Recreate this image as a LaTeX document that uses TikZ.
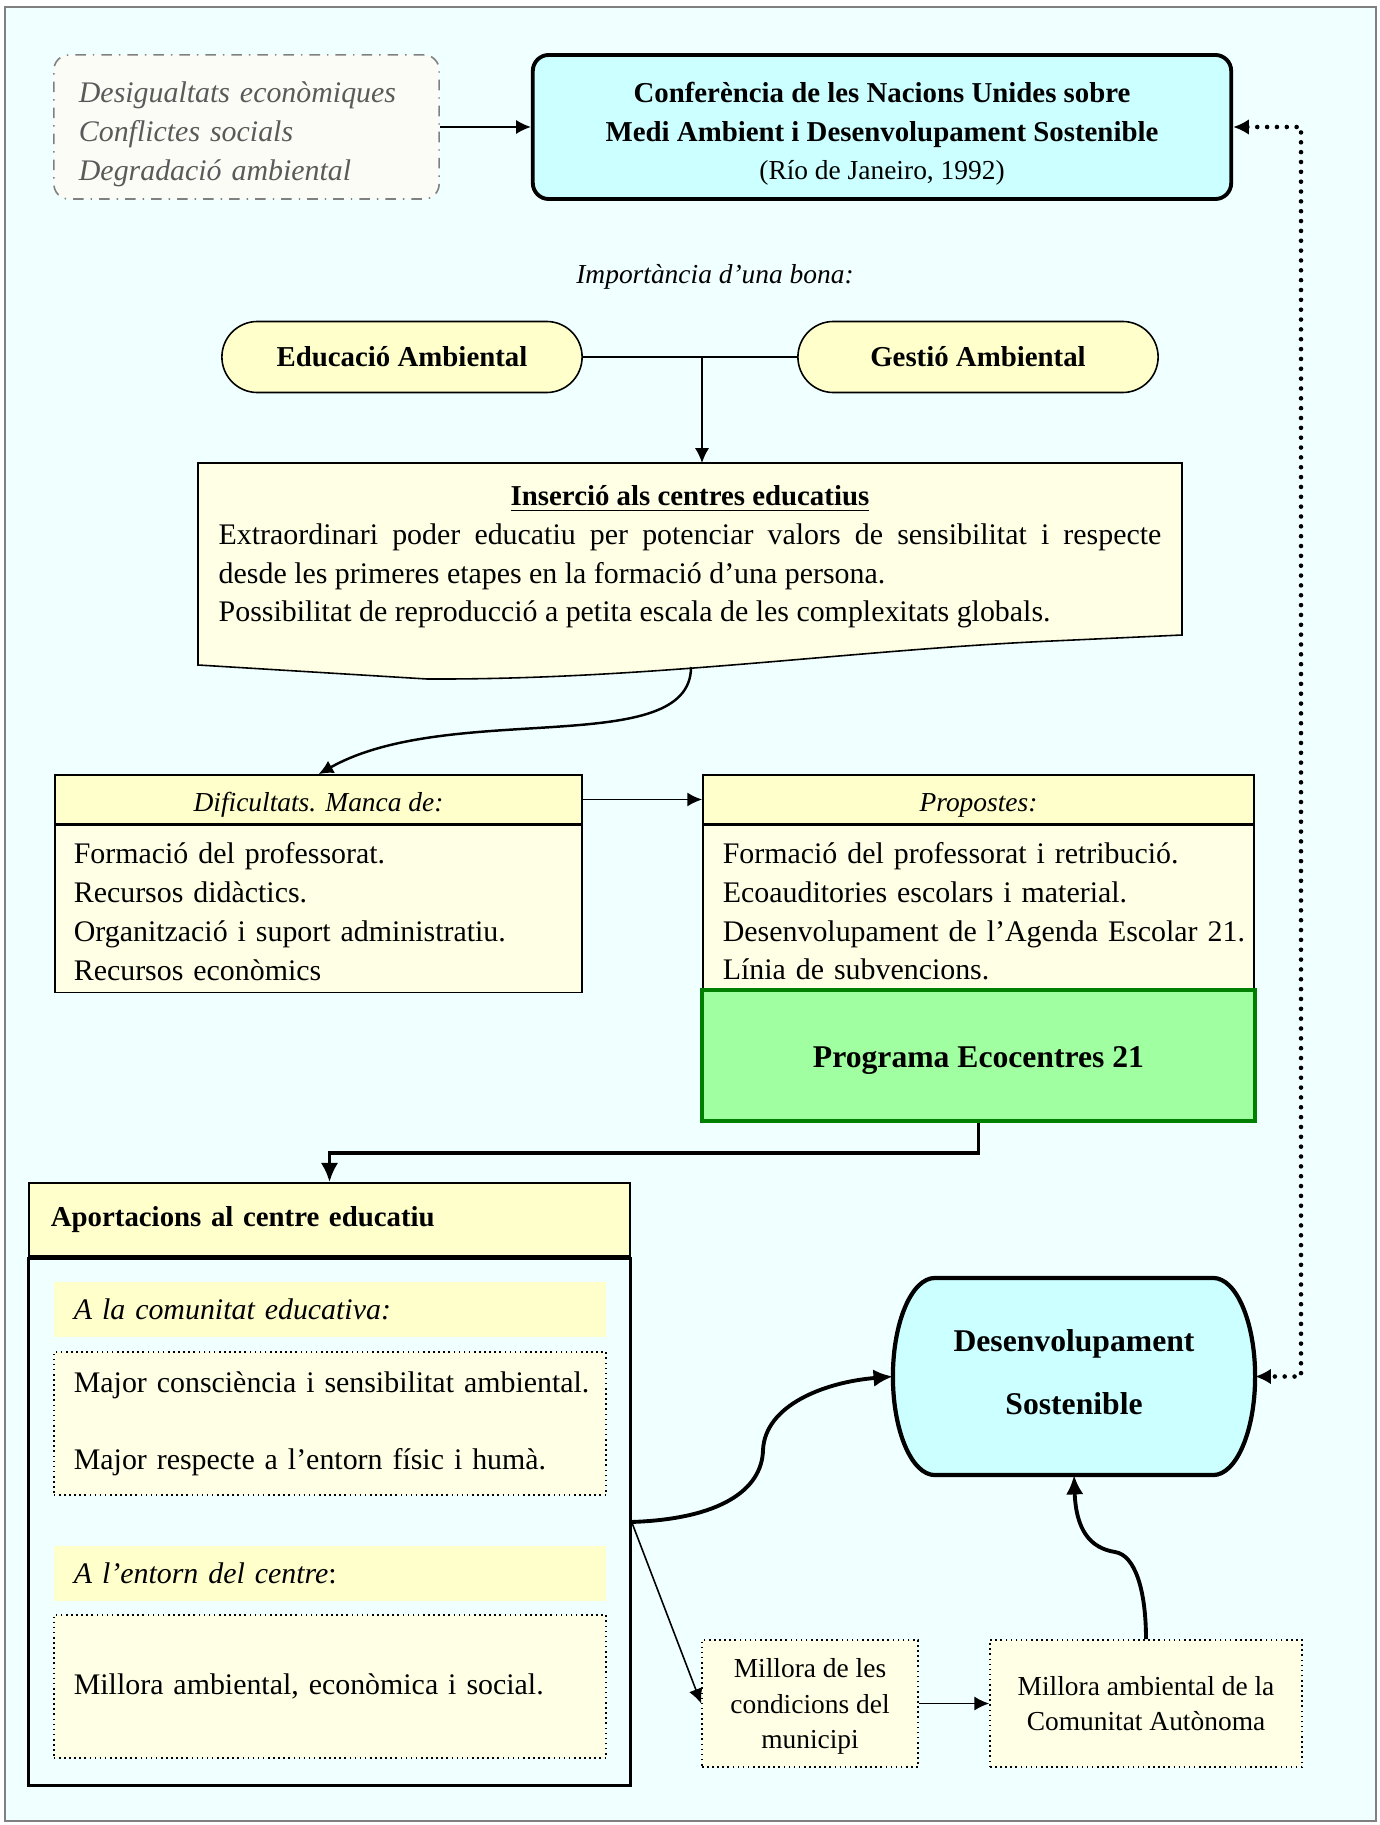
\documentclass[tikz,border=0pt]{standalone}
\usepackage{fontspec}
\setmainfont{Liberation Serif}
\usetikzlibrary{positioning,arrows.meta,shapes.misc,backgrounds}

\definecolor{bgcyan}{RGB}{240,255,255}
\definecolor{hdyellow}{RGB}{255,255,204}
\definecolor{bdyellow}{RGB}{255,255,230}
\definecolor{boxcyan}{RGB}{204,255,255}
\definecolor{ecogreen}{RGB}{160,255,160}
\definecolor{ecoborder}{RGB}{0,128,0}
\definecolor{causegray}{RGB}{90,90,90}
\definecolor{causefill}{RGB}{252,252,247}

\newcommand\txtfont{\fontsize{8.5}{11}\selectfont}
\newcommand\subfont{\fontsize{7.8}{10}\selectfont}
\newcommand\ttlfont{\fontsize{8.2}{10.9}\selectfont\bfseries}
\newcommand\bigttl{\fontsize{9}{17.9}\selectfont\bfseries}

\tikzset{
  thinln/.style={line width=0.45pt},
  thickln/.style={line width=1.1pt},
  thinarr/.style={thinln, -{Latex[length=4.2pt,width=4pt]}},
  thickarr/.style={thickln, -{Latex[length=5.5pt,width=5pt]}},
  dotln/.style={line width=1.3pt, dash pattern=on 0pt off 2.8pt, line cap=round,
    {Latex[length=4.5pt,width=4.5pt]}-{Latex[length=4.5pt,width=4.5pt]}},
  causebox/.style={draw=gray, dash dot, thinln, fill=causefill, rounded corners=0.15cm,
    minimum width=3.85cm, minimum height=1.44cm, text width=3.35cm, inner xsep=0.25cm,
    align=left, font=\txtfont\itshape, text=causegray},
  confbox/.style={draw, line width=1.1pt, fill=boxcyan, rounded corners=0.16cm,
    minimum width=6.98cm, minimum height=1.44cm, align=center, font=\ttlfont},
  pill/.style={rounded rectangle, draw, thinln, fill=hdyellow, minimum width=3.6cm,
    minimum height=0.71cm, font=\ttlfont},
  hdbox/.style={draw, thinln, fill=hdyellow, minimum height=0.49cm, text height=0.23cm,
    text depth=0cm, font=\subfont\itshape},
  bdbox/.style={draw, thinln, fill=bdyellow, minimum height=1.67cm, inner xsep=0.19cm,
    align=left, font=\txtfont},
  ecobox/.style={draw=ecoborder, line width=1.1pt, fill=ecogreen, minimum width=5.53cm,
    minimum height=1.31cm, text height=0.23cm, text depth=0cm,
    font=\fontsize{9}{11}\selectfont\bfseries},
  apohead/.style={draw, thinln, fill=hdyellow, minimum height=0.73cm, text width=5.57cm,
    inner xsep=0.22cm, align=left, font=\ttlfont},
  band/.style={fill=hdyellow, minimum height=0.55cm, inner xsep=0.2cm, text width=5.12cm,
    align=left, font=\txtfont\itshape},
  dotbox/.style={draw, densely dotted, thinln, fill=bdyellow, minimum height=1.43cm,
    inner xsep=0.2cm, text width=5.12cm, align=left, font=\txtfont},
  smallbox/.style={draw, densely dotted, thinln, fill=bdyellow, minimum height=1.27cm,
    align=center, font=\subfont}
}

\begin{document}
\begin{tikzpicture}[x=0.01cm, y=-0.01cm, every node/.style={inner sep=0pt}]
  \useasboundingbox (0,0) rectangle (1380,1825);

  \node[causebox] (causes) at (246.5,127) {\rule{0pt}{0.35cm}Desigualtats econòmiques\\Conflictes socials\\Degradació ambiental};
  \node[confbox] (conf) at (882,127) {\rule{0pt}{0.34cm}Conferència de les Nacions Unides sobre\\Medi Ambient i Desenvolupament Sostenible\\{\subfont\mdseries(Río de Janeiro, 1992)}};

  \node[font=\subfont\itshape] (imp) at (715,277) {Importància d'una bona:};
  \node[pill] (ea) at (402,357) {Educació Ambiental};
  \node[pill] (ga) at (978,357) {Gestió Ambiental};
  \coordinate (jn) at (702,357);

  \coordinate (insnw) at (198,463);
  \coordinate (insb) at (691,667);
  \node[font=\ttlfont] (inst) at (690,499) {\underline{Inserció als centres educatius}};
  \node[font=\txtfont, text width=9.42cm, align=justify] (insx) at (690,576)
    {Extraordinari poder educatiu per potenciar valors de sensibilitat i respecte\linebreak
     desde les primeres etapes en la formació d'una persona.\\
     Possibilitat de reproducció a petita escala de les complexitats globals.};

  \node[hdbox, minimum width=5.27cm] (difhd) at (318.5,799.5) {Dificultats. Manca de:};
  \node[bdbox, text width=4.89cm, below=0pt of difhd] (difbd)
    {\rule{0pt}{0.26cm}Formació del professorat.\\Recursos didàctics.\\Organització i suport administratiu.\\Recursos econòmics};
  \node[hdbox, minimum width=5.51cm] (prophd) at (978.5,799.5) {Propostes:};
  \node[bdbox, text width=5.11cm, inner xsep=0.2cm, below=0pt of prophd] (propbd)
    {\rule{0pt}{0.26cm}Formació del professorat i retribució.\\Ecoauditories escolars i material.\\\mbox{Desenvolupament de l'Agenda Escolar 21.}\\Línia de subvencions.};
  \node[ecobox] (prog) at (978.5,1055.5) {Programa Ecocentres 21};

  \node[apohead] (apohd) at (329.5,1219.5) {Aportacions al centre educatiu};
  \node[draw, line width=0.85pt, minimum width=6.01cm, minimum height=5.27cm, below=0pt of apohd] (apo) {};
  \node[band] (comhd) at (330,1309.5) {A la comunitat educativa:};
  \node[dotbox] (combd) at (330,1423.5) {\mbox{Major consciència i sensibilitat ambiental.}\\[11pt]Major respecte a l'entorn físic i humà.};
  \node[band] (enthd) at (330,1573) {A l'entorn del centre\upshape:};
  \node[dotbox] (entbd) at (330,1686.5) {Millora ambiental, econòmica i social.};

  \node[smallbox, minimum width=2.16cm] (mun) at (810,1703.5) {\rule{0pt}{0.25cm}Millora de les\\condicions del\\municipi};
  \node[smallbox, minimum width=3.12cm] (cam) at (1146,1703.5) {Millora ambiental de la\\Comunitat Autònoma};
  \node[font=\bigttl, align=center, outer sep=0pt, minimum width=3.62cm, minimum height=1.97cm] (ds) at (1074,1376.5)
    {Desenvolupament\\Sostenible\rule[-0.095cm]{0pt}{0pt}};
  \coordinate (dr) at (1301,700);

  \begin{scope}[on background layer]
    \draw[draw=gray, thinln, fill=bgcyan] (5,7) rectangle (1376,1821);
    \draw[thinln, fill=bdyellow] (insnw) -- (1182,463) -- (1182,635) -- (1052,641)
      .. controls (850,650) and (650,680) .. (427,679) -- (198,665) -- cycle;
    \draw[line width=1.2pt, line join=round, fill=boxcyan] ([xshift=0.42cm]ds.north west) -- ([xshift=-0.42cm]ds.north east)
      arc[start angle=90, end angle=-90, x radius=0.42cm, y radius=0.985cm]
      -- ([xshift=0.42cm]ds.south west)
      arc[start angle=270, end angle=90, x radius=0.42cm, y radius=0.985cm] -- cycle;
  \end{scope}

  \path[thinarr]
    (causes) edge (conf)
    (difhd)  edge (prophd)
    (apo.east) edge (mun.west)
    (mun)    edge (cam);
  \draw[thinln] (ea) -- (ga);
  \draw[thinarr] (jn) -- (jn |- insnw);
  \draw[thinarr, line width=0.7pt] (insb) .. controls (691,760) and (450,700) .. (difhd.north);
  \draw[thickarr] (prog.south) -- ++(0,30) -| (apohd.north);
  \draw[thickarr] (apo.east) .. controls (720,1519) and (762,1490) .. (763,1450)
    .. controls (765,1405) and (825,1382) .. (ds.west);
  \draw[thickarr] (cam.north) .. controls (1146,1590) and (1135,1555) .. (1115,1552)
    .. controls (1090,1548) and (1076,1530) .. (ds.south);
  \draw[dotln] (conf.east) -| (dr) |- (ds.east);
\end{tikzpicture}
\end{document}
